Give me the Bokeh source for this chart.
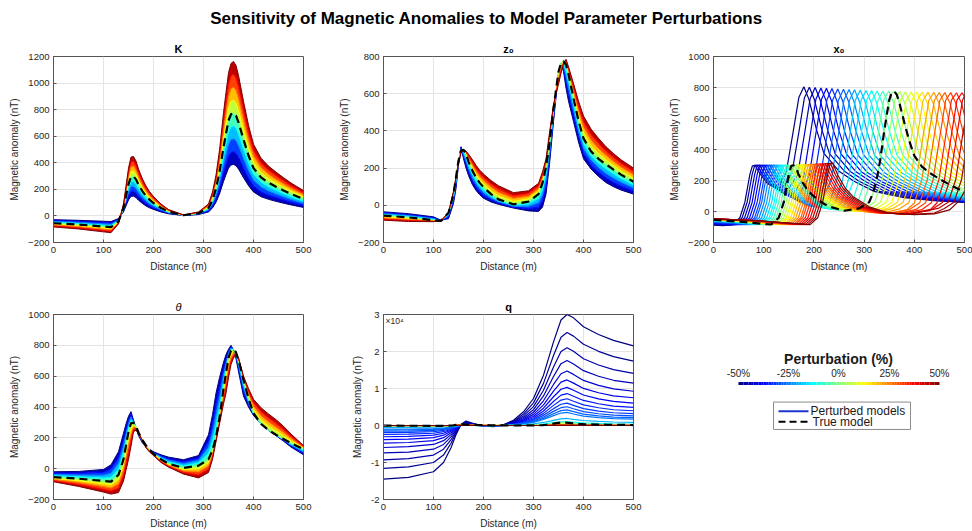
import numpy as np
from bokeh.plotting import figure
from bokeh.models import Range1d, FixedTicker, Label
from bokeh.layouts import column, row
from bokeh.embed import file_html
from bokeh.resources import INLINE
from bokeh.core.properties import value

FONT = "Liberation Sans"
TXT = "#262626"
AX = "#555555"

TITLE = "Sensitivity of Magnetic Anomalies to Model Parameter Perturbations"
CB_TITLE = "Perturbation (%)"
CB_TICKS = ["-50%", "-25%", "0%", "25%", "50%"]
LEG_LABELS = ["Perturbed models", "True model"]

# perturbation levels (%) for the banded panels
LEVELS = [-50, -37.5, -25, -12.5, 0, 12.5, 25, 37.5, 50]
X_DIST = [0, 50, 100, 115, 130, 140, 145, 150, 155, 160, 165, 170, 178, 185, 192, 200, 215, 230, 260, 290,
          310, 318, 325, 332, 340, 345, 350, 355, 360, 365, 370, 380, 390, 400, 415, 430, 445, 460, 475, 500]
TRUE_Y = [-55, -65, -80, -84, -40, 60, 150, 240, 295, 298, 275, 235, 185, 150, 122, 97, 60, 32, 5, 20,
          60, 120, 205, 330, 517, 620, 718, 765, 775, 755, 705, 575, 455, 360, 290, 250, 220, 192, 165, 127]

# K panel
K_M50 = [-28, -33, -40, -42, -20, 30, 75, 120, 148, 149, 138, 118, 93, 75, 61, 49, 30, 16, 3, 10, 30, 60, 103, 165, 259, 310, 359, 383, 388, 378, 353, 288, 228, 180, 145, 125, 110, 96, 83, 64]
K_M37 = [-34, -41, -50, -53, -25, 38, 94, 150, 184, 186, 172, 147, 116, 94, 76, 61, 38, 20, 3, 13, 38, 75, 128, 206, 323, 388, 449, 478, 484, 472, 441, 359, 284, 225, 181, 156, 138, 120, 103, 79]
K_M25 = [-41, -49, -60, -63, -30, 45, 113, 180, 221, 224, 206, 176, 139, 113, 92, 73, 45, 24, 4, 15, 45, 90, 154, 248, 388, 465, 539, 574, 581, 566, 529, 431, 341, 270, 218, 188, 165, 144, 124, 95]
K_M12 = [-48, -57, -70, -74, -35, 53, 131, 210, 258, 261, 241, 206, 162, 131, 107, 85, 53, 28, 4, 18, 53, 105, 179, 289, 452, 543, 628, 669, 678, 661, 617, 503, 398, 315, 254, 219, 193, 168, 144, 111]
K_P12 = [-62, -73, -90, -95, -45, 68, 169, 270, 332, 335, 309, 264, 208, 169, 137, 109, 68, 36, 6, 23, 68, 135, 231, 371, 582, 698, 808, 861, 872, 849, 793, 647, 512, 405, 326, 281, 248, 216, 186, 143]
K_P25 = [-69, -81, -100, -105, -50, 75, 188, 300, 369, 373, 344, 294, 231, 188, 153, 121, 75, 40, 6, 25, 75, 150, 256, 413, 646, 775, 898, 956, 969, 944, 881, 719, 569, 450, 363, 313, 275, 240, 206, 159]
K_P37 = [-76, -89, -110, -116, -55, 83, 206, 330, 406, 410, 378, 323, 254, 206, 168, 133, 83, 44, 7, 28, 83, 165, 282, 454, 711, 853, 987, 1052, 1066, 1038, 969, 791, 626, 495, 399, 344, 303, 264, 227, 175]
K_P50 = [-83, -98, -120, -126, -60, 90, 225, 360, 443, 447, 413, 353, 278, 225, 183, 146, 90, 48, 8, 30, 90, 180, 308, 495, 776, 930, 1077, 1148, 1163, 1133, 1058, 863, 683, 540, 435, 375, 330, 288, 248, 191]

# z0 panel
Z0_M50 = [-35, -45, -62, -80, -72, 10, 90, 220, 315, 250, 200, 160, 110, 80, 58, 38, 18, 5, -15, -30, -33, -10, 60, 220, 450, 580, 705, 760, 720, 630, 560, 450, 340, 250, 195, 155, 122, 100, 82, 60]
Z0_M37 = [-40, -50, -67, -81, -64, 23, 105, 225, 310, 262, 219, 179, 129, 98, 74, 53, 29, 12, -10, -18, -10, 23, 96, 248, 467, 590, 708, 761, 734, 661, 596, 481, 369, 278, 219, 179, 147, 123, 103, 77]
Z0_M25 = [-45, -55, -71, -82, -56, 35, 120, 230, 305, 274, 238, 198, 148, 115, 90, 68, 39, 19, -5, -5, 14, 55, 133, 275, 484, 600, 712, 763, 748, 693, 633, 513, 398, 305, 243, 203, 171, 146, 124, 94]
Z0_M12 = [-50, -60, -76, -83, -48, 48, 135, 235, 300, 286, 256, 216, 166, 133, 106, 82, 50, 25, 0, 8, 37, 88, 169, 303, 500, 610, 715, 764, 761, 724, 669, 544, 426, 333, 266, 226, 196, 169, 144, 110]
Z0_P12 = [-61, -71, -82, -84, -40, 64, 150, 236, 291, 298, 279, 245, 200, 166, 139, 115, 78, 50, 21, 35, 75, 135, 216, 345, 523, 615, 701, 751, 771, 763, 715, 595, 481, 390, 320, 278, 244, 214, 185, 145]
Z0_P25 = [-68, -76, -84, -83, -40, 68, 150, 233, 288, 298, 284, 255, 215, 183, 156, 133, 97, 69, 37, 49, 89, 150, 228, 360, 529, 610, 684, 738, 768, 770, 725, 615, 508, 420, 350, 305, 268, 235, 205, 164]
Z0_P37 = [-74, -82, -86, -83, -40, 71, 150, 229, 284, 298, 288, 265, 230, 199, 173, 150, 115, 87, 52, 64, 104, 165, 239, 375, 534, 605, 667, 724, 764, 778, 735, 635, 534, 450, 380, 333, 291, 257, 225, 182]
Z0_P50 = [-80, -87, -88, -82, -40, 75, 150, 225, 280, 298, 292, 275, 245, 215, 190, 168, 133, 105, 68, 78, 118, 180, 250, 390, 540, 600, 650, 710, 760, 785, 745, 655, 560, 480, 410, 360, 315, 278, 245, 200]

# theta panel
TH_M50 = [-20, -18, -5, 25, 110, 230, 290, 340, 370, 315, 262, 215, 165, 145, 125, 110, 90, 75, 58, 85, 220, 350, 490, 590, 690, 740, 775, 800, 770, 714, 630, 470, 400, 345, 290, 248, 215, 178, 140, 90]
TH_M37 = [-29, -30, -24, -2, 73, 188, 255, 315, 351, 311, 265, 220, 170, 146, 124, 107, 83, 64, 45, 69, 180, 293, 419, 525, 647, 710, 761, 791, 771, 724, 649, 496, 414, 349, 290, 249, 216, 182, 146, 99]
TH_M25 = [-38, -42, -43, -30, 35, 145, 220, 290, 333, 307, 269, 225, 175, 148, 124, 104, 75, 54, 32, 53, 140, 235, 348, 460, 604, 680, 747, 783, 773, 735, 668, 523, 428, 353, 290, 249, 218, 185, 153, 109]
TH_M12 = [-46, -53, -61, -57, -3, 103, 185, 265, 314, 302, 272, 230, 180, 149, 123, 100, 68, 43, 18, 36, 100, 178, 276, 395, 560, 650, 732, 774, 774, 745, 686, 549, 441, 356, 290, 250, 219, 189, 159, 118]
TH_P12 = [-63, -78, -98, -104, -69, 25, 110, 195, 258, 284, 269, 233, 184, 146, 119, 94, 55, 27, -5, 0, 39, 105, 198, 320, 493, 588, 686, 743, 761, 750, 709, 581, 471, 383, 316, 276, 245, 213, 180, 133]
TH_P25 = [-70, -90, -116, -125, -98, -10, 70, 150, 220, 269, 263, 232, 183, 143, 115, 91, 50, 21, -15, -20, 18, 90, 191, 310, 469, 555, 654, 720, 747, 745, 713, 588, 488, 405, 343, 303, 269, 234, 195, 139]
TH_P37 = [-78, -103, -134, -145, -126, -45, 30, 105, 183, 255, 256, 230, 181, 139, 112, 88, 45, 16, -25, -40, -4, 75, 183, 300, 444, 523, 622, 698, 732, 740, 716, 594, 504, 428, 369, 329, 294, 254, 210, 144]
TH_P50 = [-85, -115, -152, -165, -155, -80, -10, 60, 145, 240, 250, 228, 180, 135, 108, 85, 40, 10, -35, -60, -25, 60, 176, 290, 420, 490, 590, 675, 718, 735, 720, 600, 520, 450, 395, 355, 318, 275, 225, 150]

# x0 panel: levels and per-curve sample positions / values
X0_LEVELS = [-50, -46.875, -43.75, -40.625, -37.5, -34.375, -31.25, -28.125, -25, -21.875, -18.75,
             -15.625, -12.5, -9.375, -6.25, -3.125, 0, 3.125, 6.25, 9.375, 12.5, 15.625, 18.75,
             21.875, 25, 28.125, 31.25, 34.375, 37.5, 40.625, 43.75, 46.875, 50]
X0_M50_X = [0, 20, 37.5, 52.5, 62.5, 72.5, 77.5, 82.5, 92.5, 107.5, 122.5, 135, 145, 160, 170, 180, 190, 205, 220, 250, 280, 320, 380, 440, 500]
X0_M50_Y = [-88, -92, -85, -40, 60, 240, 295, 298, 245, 180, 160, 190, 255, 540, 735, 805, 725, 530, 375, 260, 195, 130, 90, 70, 58]
X0_M46_X = [0, 22, 42, 57, 67, 77, 82, 87, 97, 112, 127, 142, 156, 171, 181, 191, 201, 216, 231, 261, 291, 331, 391, 451, 500]
X0_M46_Y = [-85, -89, -85, -40, 60, 240, 297, 299, 243, 172, 148, 170, 245, 530, 732, 802, 722, 527, 373, 259, 194, 130, 90, 70, 60]
X0_M43_X = [0, 25, 47, 62, 72, 82, 87, 92, 102, 117, 132, 150, 167.5, 182.5, 192.5, 202.5, 212.5, 227.5, 242.5, 272.5, 302.5, 342.5, 402.5, 460, 500]
X0_M43_Y = [-81, -86, -85, -40, 60, 240, 297, 299, 240, 165, 135, 150, 235, 525, 728, 800, 720, 525, 372, 258, 193, 129, 90, 70, 62]
X0_M40_X = [0, 27, 52, 67, 77, 87, 92, 97, 107, 122, 137, 157, 179, 194, 204, 214, 224, 239, 254, 284, 314, 354, 414, 474, 500]
X0_M40_Y = [-78, -83, -85, -40, 60, 240, 297, 299, 240, 162, 120, 105, 215, 522, 724, 797, 717, 522, 371, 256, 192, 128, 90, 68, 65]
X0_M37_X = [0, 30, 57, 72, 82, 92, 97, 102, 112, 127, 142, 165, 190, 205, 215, 225, 235, 250, 265, 295, 325, 365, 425, 500]
X0_M37_Y = [-75, -80, -85, -40, 60, 240, 296, 299, 240, 160, 112, 75, 220, 525, 722, 795, 715, 520, 370, 255, 192, 128, 90, 64]
X0_M34_X = [0, 32, 62, 77, 87, 97, 102, 107, 117, 132, 147, 172, 190, 201, 216, 226, 236, 246, 261, 276, 306, 336, 376, 436, 500]
X0_M34_Y = [-72, -78, -85, -40, 60, 240, 297, 299, 238, 158, 108, 62, 75, 218, 520, 721, 793, 713, 518, 368, 254, 191, 128, 90, 67]
X0_M31_X = [0, 35, 67, 82, 92, 102, 107, 112, 122, 137, 152, 178, 200, 212.5, 227.5, 237.5, 247.5, 257.5, 272.5, 287.5, 317.5, 347.5, 387.5, 447.5, 500]
X0_M31_Y = [-70, -76, -85, -40, 60, 240, 296, 299, 237, 156, 105, 55, 90, 215, 518, 720, 791, 711, 517, 366, 253, 191, 128, 90, 70]
X0_M28_X = [0, 37, 71, 86, 96, 106, 111, 116, 126, 141, 156, 184, 208, 224, 239, 249, 259, 269, 284, 299, 329, 359, 399, 459, 500]
X0_M28_Y = [-67, -74, -85, -40, 60, 240, 297, 299, 236, 154, 102, 42, 65, 212, 519, 720, 789, 710, 516, 365, 253, 190, 128, 90, 72]
X0_M25_X = [0, 40, 76, 91, 101, 111, 116, 121, 131, 146, 161, 190, 215, 235, 250, 260, 270, 280, 295, 310, 340, 370, 410, 470, 500]
X0_M25_Y = [-65, -72, -85, -40, 60, 240, 297, 299, 235, 152, 100, 35, 60, 210, 520, 720, 787, 708, 515, 362, 252, 190, 128, 90, 78]
X0_M21_X = [0, 42, 81, 96, 106, 116, 121, 126, 136, 151, 166, 195, 221, 231, 246, 261, 271, 281, 291, 306, 321, 351, 381, 421, 481, 500]
X0_M21_Y = [-63, -71, -85, -40, 60, 240, 297, 299, 235, 151, 99, 33, 35, 55, 209, 518, 719, 785, 707, 514, 363, 252, 190, 127, 91, 85]
X0_M18_X = [0, 45, 86, 101, 111, 121, 126, 131, 141, 156, 171, 200, 225, 242, 257.5, 272.5, 282.5, 292.5, 302.5, 317.5, 332.5, 362.5, 392.5, 432.5, 492.5, 500]
X0_M18_Y = [-62, -70, -85, -40, 60, 240, 297, 299, 235, 151, 98, 32, 25, 55, 208, 517, 718, 783, 705, 513, 361, 251, 190, 127, 92, 88]
X0_M15_X = [0, 47, 91, 106, 116, 126, 131, 136, 146, 161, 176, 205, 234, 254, 269, 284, 294, 304, 314, 329, 344, 374, 404, 444, 500]
X0_M15_Y = [-61, -69, -85, -40, 60, 240, 297, 299, 235, 150, 97, 31, 15, 50, 208, 517, 718, 781, 703, 512, 360, 251, 190, 127, 90]
X0_M12_X = [0, 50, 96, 111, 121, 131, 136, 141, 151, 166, 181, 210, 240, 260, 280, 295, 305, 315, 325, 340, 355, 385, 415, 455, 500]
X0_M12_Y = [-60, -68, -85, -40, 60, 240, 297, 299, 235, 150, 97, 30, 12, 35, 208, 517, 718, 780, 702, 512, 360, 250, 190, 127, 95]
X0_M09_X = [0, 52, 100, 115, 125, 135, 140, 145, 155, 170, 185, 215, 245, 266, 276, 291, 306, 316, 326, 336, 351, 366, 396, 426, 466, 500]
X0_M09_Y = [-58, -67, -85, -40, 60, 240, 297, 299, 235, 150, 97, 31, 10, 25, 59, 206, 517, 718, 778, 701, 511, 360, 250, 190, 127, 102]
X0_M06_X = [0, 55, 105, 120, 130, 140, 145, 150, 160, 175, 190, 220, 250, 275, 287.5, 302.5, 317.5, 327.5, 337.5, 347.5, 362.5, 377.5, 407.5, 437.5, 477.5, 500]
X0_M06_Y = [-57, -66, -85, -40, 60, 240, 297, 299, 235, 150, 97, 32, 8, 22, 60, 205, 517, 718, 777, 700, 510, 360, 250, 190, 127, 108]
X0_M03_X = [0, 57, 110, 125, 135, 145, 150, 155, 165, 180, 195, 225, 255, 279, 299, 314, 329, 339, 349, 359, 374, 389, 419, 449, 489, 500]
X0_M03_Y = [-56, -66, -85, -40, 60, 240, 296, 298, 235, 150, 97, 32, 6, 20, 60, 205, 517, 718, 776, 700, 510, 360, 250, 190, 127, 118]
X0_P03_X = [0, 60, 120, 135, 145, 155, 160, 165, 175, 190, 205, 235, 265, 301, 321, 336, 351, 361, 371, 381, 396, 411, 441, 471, 500]
X0_P03_Y = [-54, -64, -85, -40, 60, 240, 298, 300, 235, 150, 97, 32, 5, 19, 60, 205, 517, 718, 774, 700, 510, 360, 250, 190, 140]
X0_P06_X = [0, 60, 125, 140, 150, 160, 165, 170, 180, 195, 210, 240, 270, 312.5, 332.5, 347.5, 362.5, 372.5, 382.5, 392.5, 407.5, 422.5, 452.5, 482.5, 500]
X0_P06_Y = [-53, -63, -85, -40, 60, 240, 299, 301, 235, 150, 97, 32, 5, 18, 60, 205, 517, 718, 773, 700, 510, 360, 250, 190, 165]
X0_P09_X = [0, 60, 130, 145, 155, 165, 170, 175, 185, 200, 215, 245, 278, 310, 324, 344, 359, 374, 384, 394, 404, 419, 434, 464, 494, 500]
X0_P09_Y = [-52, -62, -85, -40, 60, 240, 300, 302, 235, 150, 97, 31, 2, 10, 20, 59, 205, 517, 718, 772, 700, 510, 360, 250, 190, 180]
X0_P12_X = [0, 60, 134, 149, 159, 169, 174, 179, 189, 204, 219, 250, 285, 320, 340, 355, 370, 385, 395, 405, 415, 430, 445, 475, 500]
X0_P12_Y = [-52, -62, -85, -40, 60, 240, 300, 302, 235, 150, 97, 30, 0, 8, 25, 60, 205, 517, 718, 771, 700, 510, 360, 250, 205]
X0_P15_X = [0, 62, 139, 154, 164, 174, 179, 184, 194, 209, 224, 254, 290, 325, 346, 366, 381, 396, 406, 416, 426, 441, 456, 486, 500]
X0_P15_Y = [-51, -61, -85, -40, 60, 240, 301, 303, 235, 150, 97, 30, 0, -2, 20, 58, 205, 517, 718, 770, 700, 510, 360, 250, 222]
X0_P18_X = [0, 65, 144, 159, 169, 179, 184, 189, 199, 214, 229, 259, 295, 330, 357.5, 377.5, 392.5, 407.5, 417.5, 427.5, 437.5, 452.5, 467.5, 497.5, 500]
X0_P18_Y = [-51, -61, -85, -40, 60, 240, 301, 303, 235, 150, 97, 30, 0, -3, 20, 58, 205, 517, 718, 770, 700, 510, 360, 250, 245]
X0_P21_X = [0, 67, 149, 164, 174, 184, 189, 194, 204, 219, 234, 264, 302, 340, 369, 389, 404, 419, 429, 439, 449, 464, 479, 500]
X0_P21_Y = [-50, -60, -85, -40, 60, 240, 302, 304, 235, 150, 97, 30, -3, -7, 15, 57, 205, 517, 718, 769, 700, 510, 360, 280]
X0_P25_X = [0, 70, 154, 169, 179, 189, 194, 199, 209, 224, 239, 270, 310, 350, 385, 400, 415, 430, 440, 450, 460, 475, 490, 500]
X0_P25_Y = [-50, -60, -85, -40, 60, 240, 303, 305, 235, 150, 97, 30, -5, -10, 10, 55, 205, 517, 718, 768, 700, 510, 360, 320]
X0_P28_X = [0, 72, 159, 174, 184, 194, 199, 204, 214, 229, 244, 275, 315, 358, 391, 411, 426, 441, 451, 461, 471, 486, 500]
X0_P28_Y = [-49, -59, -85, -40, 60, 240, 304, 306, 235, 150, 97, 30, -6, -11, 14, 57, 205, 517, 718, 767, 700, 510, 370]
X0_P31_X = [0, 75, 163, 178, 188, 198, 203, 208, 218, 233, 248, 280, 320, 365, 402.5, 422.5, 437.5, 452.5, 462.5, 472.5, 482.5, 497.5, 500]
X0_P31_Y = [-49, -59, -85, -40, 60, 240, 305, 307, 235, 150, 97, 30, -7, -12, 12, 57, 205, 517, 718, 767, 700, 510, 480]
X0_P34_X = [0, 77, 168, 183, 193, 203, 208, 213, 223, 238, 253, 285, 325, 372, 414, 434, 449, 464, 474, 484, 494, 500]
X0_P34_Y = [-48, -58, -85, -40, 60, 240, 305, 307, 235, 150, 97, 30, -8, -14, 10, 56, 205, 517, 718, 766, 700, 620]
X0_P37_X = [0, 80, 173, 188, 198, 208, 213, 218, 228, 243, 258, 290, 330, 380, 430, 445, 460, 475, 485, 495, 500]
X0_P37_Y = [-48, -58, -85, -40, 60, 240, 306, 308, 235, 150, 97, 30, -8, -15, 5, 55, 205, 517, 718, 766, 740]
X0_P40_X = [0, 82, 178, 193, 203, 213, 218, 223, 233, 248, 263, 295, 335, 385, 436, 456, 471, 486, 496, 500]
X0_P40_Y = [-47, -58, -85, -40, 60, 240, 307, 309, 235, 150, 97, 30, -9, -16, 15, 58, 205, 517, 718, 745]
X0_P43_X = [0, 85, 183, 198, 208, 218, 223, 228, 238, 253, 268, 300, 340, 390, 447.5, 467.5, 482.5, 497.5, 500]
X0_P43_Y = [-47, -59, -85, -40, 60, 240, 308, 310, 235, 150, 97, 30, -9, -18, 20, 60, 205, 517, 560]
X0_P46_X = [0, 87, 188, 203, 213, 223, 228, 233, 243, 258, 273, 305, 345, 395, 440, 459, 479, 494, 500]
X0_P46_Y = [-47, -59, -85, -40, 60, 240, 309, 311, 235, 150, 97, 30, -10, -19, -10, 18, 60, 205, 330]
X0_P50_X = [0, 90, 192.5, 207.5, 217.5, 227.5, 232.5, 237.5, 247.5, 262.5, 277.5, 310, 350, 400, 440, 470, 490, 500]
X0_P50_Y = [-47, -60, -85, -40, 60, 240, 309, 312, 235, 150, 97, 30, -10, -20, -15, 10, 70, 130]

# q panel
Q_X = [0, 50, 100, 120, 135, 145, 155, 165, 180, 200, 220, 240, 260, 280, 300, 320, 340, 355, 367, 380, 400, 430, 460, 500]
Q_M50 = [-14500, -14000, -12500, -10000, -6000, -2500, 300, 1200, 500, -100, -300, 200, 1400, 3700, 7300, 13600, 22600, 28500, 30000, 29100, 26700, 24600, 23000, 21500]
Q_M48 = [-11600, -11200, -10000, -8000, -4800, -2050, 250, 1000, 420, -80, -250, 170, 1170, 3100, 6110, 11380, 18920, 23860, 25110, 24150, 21950, 20050, 18630, 17420]
Q_M46 = [-9280, -8960, -8000, -6400, -3840, -1680, 210, 840, 350, -70, -210, 140, 980, 2590, 5110, 9530, 15830, 19970, 21020, 20050, 18040, 16340, 15090, 14110]
Q_M44 = [-7420, -7170, -6400, -5120, -3070, -1380, 180, 700, 290, -60, -180, 120, 820, 2170, 4280, 7980, 13250, 16710, 17590, 16640, 14830, 13320, 12220, 11430]
Q_M42 = [-5940, -5730, -5120, -4100, -2460, -1130, 150, 590, 250, -50, -150, 100, 690, 1820, 3580, 6680, 11090, 13990, 14720, 13810, 12190, 10850, 9900, 9260]
Q_M40 = [-4750, -4590, -4100, -3280, -1970, -930, 120, 490, 210, -40, -120, 80, 580, 1520, 3000, 5590, 9280, 11710, 12320, 11460, 10020, 8850, 8020, 7500]
Q_M38 = [-3800, -3670, -3280, -2620, -1570, -760, 100, 410, 170, -30, -100, 70, 480, 1270, 2510, 4680, 7770, 9800, 10310, 9510, 8240, 7210, 6500, 6070]
Q_M36 = [-3040, -2940, -2620, -2100, -1260, -620, 90, 350, 140, -30, -90, 60, 400, 1070, 2100, 3910, 6500, 8200, 8630, 7900, 6770, 5870, 5260, 4920]
Q_M34 = [-2430, -2350, -2100, -1680, -1010, -510, 70, 290, 120, -20, -70, 50, 340, 890, 1760, 3280, 5440, 6870, 7230, 6550, 5560, 4790, 4260, 3980]
Q_M32 = [-1950, -1880, -1680, -1340, -810, -420, 60, 240, 100, -20, -60, 40, 280, 750, 1470, 2740, 4560, 5750, 6050, 5440, 4570, 3900, 3450, 3230]
Q_M30 = [-1560, -1500, -1340, -1070, -640, -340, 50, 200, 80, -20, -50, 30, 240, 620, 1230, 2300, 3820, 4810, 5060, 4520, 3760, 3180, 2800, 2610]
Q_M28 = [-1250, -1200, -1070, -860, -520, -280, 40, 170, 70, -10, -40, 30, 200, 520, 1030, 1920, 3190, 4030, 4240, 3750, 3090, 2590, 2270, 2120]
Q_M26 = [-1000, -960, -860, -690, -410, -230, 40, 140, 60, -10, -40, 20, 170, 440, 860, 1610, 2670, 3370, 3550, 3110, 2540, 2110, 1840, 1720]
Q_M20 = [-500, -480, -430, -350, -200, -100, 30, 100, 50, -10, -20, 10, 80, 230, 450, 820, 1400, 1800, 1900, 1650, 1350, 1100, 950, 870]
Q_M10 = [-200, -200, -190, -160, -80, 0, 40, 80, 50, 10, -10, 5, 30, 100, 200, 420, 760, 1000, 1050, 900, 700, 560, 470, 410]
Q_P10 = [-25, -30, -40, -45, 0, 90, 180, 170, 100, 50, 25, 8, 2, 5, 15, 70, 280, 420, 410, 310, 190, 125, 90, 60]
Q_P20 = [-12, -15, -20, -24, 0, 50, 110, 100, 60, 28, 12, 4, 1, 2, 7, 35, 150, 230, 225, 170, 100, 65, 45, 30]
Q_P30 = [-6, -7, -10, -12, 0, 28, 65, 60, 35, 15, 6, 2, 0, 1, 3, 18, 80, 125, 122, 90, 52, 33, 23, 15]
Q_P40 = [-3, -3, -5, -6, 0, 16, 38, 35, 20, 8, 3, 1, 0, 0, 1, 9, 42, 68, 66, 48, 27, 17, 12, 8]
Q_P50 = [-1, -2, -2, -3, 0, 9, 22, 20, 11, 4, 2, 0, 0, 0, 0, 4, 22, 37, 36, 26, 14, 9, 6, 4]
Q_LEVELS = [-50, -48, -46, -44, -42, -40, -38, -36, -34, -32, -30, -28, -26, -20, -10, 10, 20, 30, 40, 50]


def jet(p):
    t = (p + 50.0) / 100.0
    r = min(max(1.5 - abs(4 * t - 3), 0), 1)
    g = min(max(1.5 - abs(4 * t - 2), 0), 1)
    b = min(max(1.5 - abs(4 * t - 1), 0), 1)
    return "#%02x%02x%02x" % (int(round(r * 255)), int(round(g * 255)), int(round(b * 255)))


def make_panel(title, ymin, ymax, yticks, width, height, top, bottom, right,
               title_style="bold", overrides=None):
    p = figure(width=width, height=height, x_range=Range1d(0, 500), y_range=Range1d(ymin, ymax),
               output_backend="svg", toolbar_location=None,
               min_border_left=53, min_border_right=right, min_border_top=top,
               min_border_bottom=bottom)
    p.title.text = title
    p.title.align = "center"
    p.title.text_font = FONT
    p.title.text_font_size = "11px"
    p.title.text_font_style = title_style
    p.title.text_color = "#000000"
    p.title.standoff = 3
    p.xaxis.ticker = FixedTicker(ticks=[0, 100, 200, 300, 400, 500])
    p.yaxis.ticker = FixedTicker(ticks=yticks)
    if overrides:
        p.yaxis.major_label_overrides = overrides
    p.xaxis.axis_label = "Distance (m)"
    p.yaxis.axis_label = "Magnetic anomaly (nT)"
    for ax in (p.xaxis, p.yaxis):
        ax.axis_label_text_font = FONT
        ax.axis_label_text_font_size = "10px"
        ax.axis_label_text_font_style = "normal"
        ax.axis_label_text_color = TXT
        ax.major_label_text_font = FONT
        ax.major_label_text_font_size = "9.5px"
        ax.major_label_text_color = TXT
        ax.axis_line_color = AX
        ax.major_tick_line_color = AX
        ax.major_tick_in = 3
        ax.major_tick_out = 0
        ax.minor_tick_line_color = None
        ax.major_label_standoff = 4
        ax.axis_label_standoff = 5
    p.grid.grid_line_color = "#e4e4e4"
    p.outline_line_color = AX
    return p


def draw_band(p, curves):
    for i in range(len(curves) - 1):
        mid = 0.5 * (LEVELS[i] + LEVELS[i + 1])
        p.varea(x=X_DIST, y1=curves[i], y2=curves[i + 1], fill_color=jet(mid), fill_alpha=1.0)
    for lev, c in zip(LEVELS, curves):
        p.line(X_DIST, c, line_color=jet(lev), line_width=1)
    p.line(X_DIST, TRUE_Y, line_color="black", line_width=2.2, line_dash="8 5")


# ---- row 1 ----
p1 = make_panel("K", -200, 1200, [-200, 0, 200, 400, 600, 800, 1000, 1200], 330, 258, 26, 46, 27)
draw_band(p1, [K_M50, K_M37, K_M25, K_M12, TRUE_Y, K_P12, K_P25, K_P37, K_P50])

p2 = make_panel("z\u2080", -200, 800, [-200, 0, 200, 400, 600, 800], 330, 258, 26, 46, 27)
draw_band(p2, [Z0_M50, Z0_M37, Z0_M25, Z0_M12, TRUE_Y, Z0_P12, Z0_P25, Z0_P37, Z0_P50])

p3 = make_panel("x\u2080", -200, 1000, [-200, 0, 200, 400, 600, 800, 1000], 312, 258, 26, 46, 8)
x0_curves = [(X0_M50_X, X0_M50_Y), (X0_M46_X, X0_M46_Y), (X0_M43_X, X0_M43_Y), (X0_M40_X, X0_M40_Y),
             (X0_M37_X, X0_M37_Y), (X0_M34_X, X0_M34_Y), (X0_M31_X, X0_M31_Y), (X0_M28_X, X0_M28_Y),
             (X0_M25_X, X0_M25_Y), (X0_M21_X, X0_M21_Y), (X0_M18_X, X0_M18_Y), (X0_M15_X, X0_M15_Y),
             (X0_M12_X, X0_M12_Y), (X0_M09_X, X0_M09_Y), (X0_M06_X, X0_M06_Y), (X0_M03_X, X0_M03_Y),
             (X_DIST, TRUE_Y),
             (X0_P03_X, X0_P03_Y), (X0_P06_X, X0_P06_Y), (X0_P09_X, X0_P09_Y), (X0_P12_X, X0_P12_Y),
             (X0_P15_X, X0_P15_Y), (X0_P18_X, X0_P18_Y), (X0_P21_X, X0_P21_Y), (X0_P25_X, X0_P25_Y),
             (X0_P28_X, X0_P28_Y), (X0_P31_X, X0_P31_Y), (X0_P34_X, X0_P34_Y), (X0_P37_X, X0_P37_Y),
             (X0_P40_X, X0_P40_Y), (X0_P43_X, X0_P43_Y), (X0_P46_X, X0_P46_Y), (X0_P50_X, X0_P50_Y)]
for lev, (xs, ys) in zip(X0_LEVELS, x0_curves):
    p3.line(xs, ys, line_color=jet(lev), line_width=1.2)
p3.line(X_DIST, TRUE_Y, line_color="black", line_width=2.2, line_dash="8 5")

# ---- row 2 ----
p4 = make_panel("\u03b8", -200, 1000, [-200, 0, 200, 400, 600, 800, 1000], 330, 243, 26, 32, 27,
                title_style="italic")
draw_band(p4, [TH_M50, TH_M37, TH_M25, TH_M12, TRUE_Y, TH_P12, TH_P25, TH_P37, TH_P50])

p5 = make_panel("q", -20000, 30000, [-20000, -10000, 0, 10000, 20000, 30000], 330, 243, 26, 32, 27,
                overrides={-20000: "-2", -10000: "-1", 0: "0", 10000: "1", 20000: "2", 30000: "3"})
q_curves = [Q_M50, Q_M48, Q_M46, Q_M44, Q_M42, Q_M40, Q_M38, Q_M36, Q_M34, Q_M32, Q_M30, Q_M28,
            Q_M26, Q_M20, Q_M10, Q_P10, Q_P20, Q_P30, Q_P40, Q_P50]
for lev, ys in zip(Q_LEVELS, q_curves):
    if lev == 10:
        p5.line(X_DIST, TRUE_Y, line_color=jet(0), line_width=1.2)
    p5.line(Q_X, ys, line_color=jet(lev), line_width=1.2)
p5.line(X_DIST, TRUE_Y, line_color="black", line_width=2.2, line_dash="8 5")
p5.add_layout(Label(x=4, y=30000, text="\u00d710\u2074", text_font=FONT, text_font_size="8.5px",
                    text_color=TXT, text_baseline="top", y_offset=-1))

# ---- colour bar and legend ----
cb = figure(width=312, height=243, x_range=Range1d(0, 312), y_range=Range1d(0, 243),
            output_backend="svg", toolbar_location=None, x_axis_location=None,
            y_axis_location=None, min_border=0)
cb.grid.visible = False
cb.outline_line_color = None
cb.text(x=[178], y=[184], text=[CB_TITLE], text_font=value(FONT), text_font_size="14px",
        text_font_style="bold", text_align="center", text_baseline="middle", text_color="#1a1a1a")
cb.text(x=[78, 128, 178, 229, 279], y=[166] * 5, text=CB_TICKS, text_font=value(FONT),
        text_font_size="10px", text_align="center", text_baseline="middle", text_color=TXT)
n = 80
edges = np.linspace(78, 279, n + 1)
cb.quad(left=edges[:-1], right=edges[1:], bottom=150.5, top=154.5,
        fill_color=[jet(-50 + 100 * (i + 0.5) / n) for i in range(n)], line_color=None)
cb.quad(left=[113], right=[250], bottom=[92], top=[128], fill_color="white", line_color="#8c8c8c",
        line_width=1)
cb.line([118, 148], [116, 116], line_color="#1f35d0", line_width=2)
cb.line([118, 148], [102, 102], line_color="black", line_width=2, line_dash="7 4")
cb.text(x=[150, 152], y=[116, 102], text=LEG_LABELS, text_font=value(FONT), text_font_size="12px",
        text_align="left", text_baseline="middle", text_color="#1a1a1a")

# ---- title ----
tf = figure(width=972, height=30, x_range=Range1d(0, 972), y_range=Range1d(0, 30),
            output_backend="svg", toolbar_location=None, x_axis_location=None,
            y_axis_location=None, min_border=0)
tf.grid.visible = False
tf.outline_line_color = None
tf.text(x=[486], y=[12], text=[TITLE], text_font=value(FONT), text_font_size="17px",
        text_font_style="bold", text_align="center", text_baseline="middle", text_color="#000000")

layout = column(tf, row(p1, p2, p3), row(p4, p5, cb))
open("out.html", "w").write(file_html(layout, INLINE))
